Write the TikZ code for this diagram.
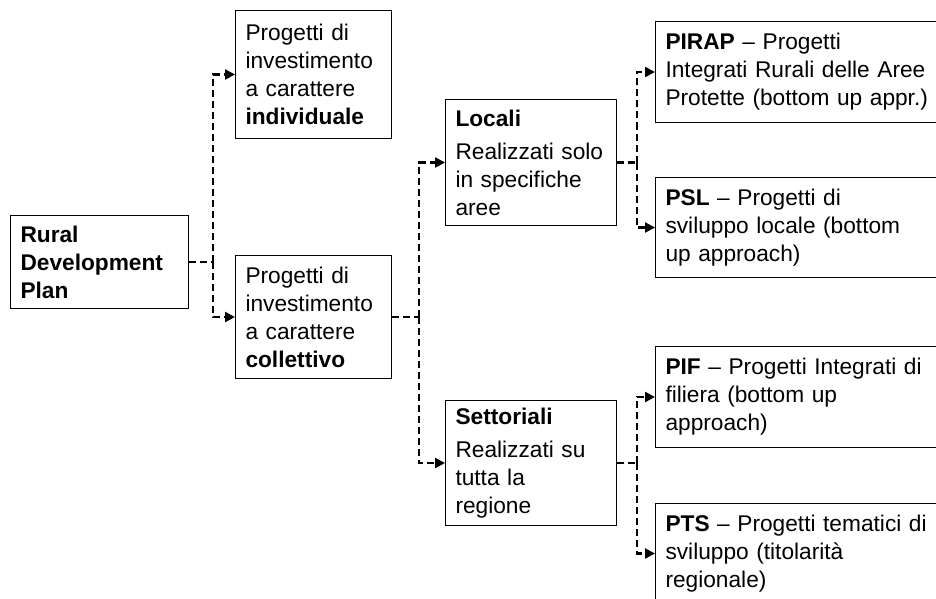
\documentclass[tikz,border=0pt]{standalone}
\usepackage{fontspec}
\setmainfont{Liberation Sans}
\usetikzlibrary{arrows.meta}
\begin{document}
\begin{tikzpicture}[x=1pt,y=-1pt,
  box/.style={draw=black,line width=1pt,anchor=north west,inner xsep=10pt,inner ysep=0pt,
    align=left,font=\fontsize{22.7}{28}\selectfont},
  conn/.style={line width=2.3pt,dash pattern=on 7pt off 4pt},
  arr/.style={conn,-{Triangle[length=10pt,width=10pt]}}]
\useasboundingbox (0,0) rectangle (936,599);
\node[box,minimum width=178pt,text width=158pt,minimum height=93pt] (rural) at (10,215)
  {\textbf{Rural}\\\textbf{Development}\\\textbf{Plan}};
\node[box,minimum width=156pt,text width=136pt,minimum height=128pt] (ind) at (235,10)
  {Progetti di\\investimento\\a carattere\\\textbf{individuale}};
\node[box,minimum width=156pt,text width=136pt,minimum height=123pt] (coll) at (235,255)
  {Progetti di\\investimento\\a carattere\\\textbf{collettivo}};
\node[box,minimum width=171pt,text width=151pt,minimum height=126pt] (loc) at (445,99)
  {\textbf{Locali}\\[5pt]Realizzati solo\\in specifiche\\aree};
\node[box,minimum width=171pt,text width=151pt,minimum height=125pt] (set) at (445,400)
  {\textbf{Settoriali}\\[5pt]Realizzati su\\tutta la\\regione};
\node[box,minimum width=290pt,text width=270pt,minimum height=101pt] (pirap) at (655,21)
  {\textbf{PIRAP} – Progetti\\Integrati Rurali delle Aree\\Protette (bottom up appr.)};
\node[box,minimum width=290pt,text width=270pt,minimum height=100pt] (psl) at (655,177)
  {\textbf{PSL} – Progetti di\\sviluppo locale (bottom\\up approach)};
\node[box,minimum width=290pt,text width=270pt,minimum height=101pt] (pif) at (655,346)
  {\textbf{PIF} – Progetti Integrati di\\filiera (bottom up\\approach)};
\node[box,minimum width=290pt,text width=270pt,minimum height=100pt] (pts) at (655,503)
  {\textbf{PTS} – Progetti tematici di\\sviluppo (titolarità\\regionale)};
% connectors
\draw[conn] (rural.east) -- ++(24,0) coordinate (j1);
\draw[arr] (j1) |- (ind.west);
\draw[arr] (j1) |- (coll.west);
\draw[conn] (coll.east) -- ++(27,0) coordinate (j2);
\draw[arr] (j2) |- (loc.west);
\draw[arr] (j2) |- (set.west);
\draw[conn] (loc.east) -- ++(20,0) coordinate (j3);
\draw[arr] (j3) |- (pirap.west);
\draw[arr] (j3) |- (psl.west);
\draw[conn] (set.east) -- ++(20,0) coordinate (j4);
\draw[arr] (j4) |- (pif.west);
\draw[arr] (j4) |- (pts.west);
\end{tikzpicture}
\end{document}
